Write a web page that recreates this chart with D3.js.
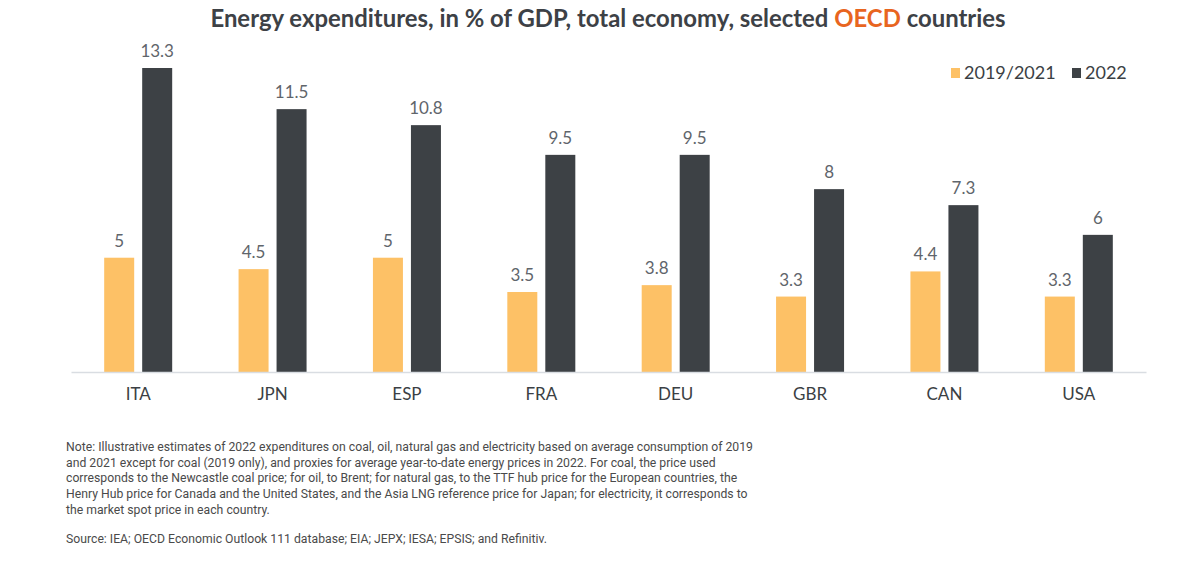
<!DOCTYPE html>
<html lang="en">
<head>
<meta charset="UTF-8">
<title>Energy expenditures</title>
<script src="https://cdn.jsdelivr.net/npm/d3@7"></script>
<style>
  body {margin: 0; background: #fff;}
  svg {display: block;}
  .title {font-family: Lato, sans-serif; font-weight: bold; font-size: 23.9px; fill: #3d4146;}
  .note {font-family: "Roboto", "Liberation Sans Narrow", sans-serif; font-size: 12.6px; fill: #4a4a4a;}
</style>
</head>
<body>
<svg id="chart"></svg>
<script>
// DATA
const countries = ["ITA", "JPN", "ESP", "FRA", "DEU", "GBR", "CAN", "USA"];
const series = ["2019/2021", "2022"];
const values2019 = [5, 4.5, 5, 3.5, 3.8, 3.3, 4.4, 3.3];
const values2022 = [13.3, 11.5, 10.8, 9.5, 9.5, 8, 7.3, 6];
const colors = ["#fdc166", "#3d4145"];
const noteLines = [
  "Note: Illustrative estimates of 2022 expenditures on coal, oil, natural gas and electricity based on average consumption of 2019",
  "and 2021 except for coal (2019 only), and proxies for average year-to-date energy prices in 2022. For coal, the price used",
  "corresponds to the Newcastle coal price; for oil, to Brent; for natural gas, to the TTF hub price for the European countries, the",
  "Henry Hub price for Canada and the United States, and the Asia LNG reference price for Japan; for electricity, it corresponds to",
  "the market spot price in each country."
];
const source = "Source: IEA; OECD Economic Outlook 111 database; EIA; JEPX; IESA; EPSIS; and Refinitiv.";

const W = 1186, H = 567;
const svg = d3.select("#chart").attr("width", W).attr("height", H);

// scales
const x = d3.scaleBand().domain(countries).range([71, 1146]);
const xs = d3.scaleBand().domain(series).range([-34, 34]).paddingInner(8 / 38);
const y = d3.scaleLinear().domain([0, 13.3]).range([372, 68]);

const table = countries.map((c, i) => ({c, vals: [values2019[i], values2022[i]]}));

// title
const title = svg.append("text").attr("class", "title").attr("x", 608).attr("y", 27).attr("text-anchor", "middle");
title.append("tspan").text("Energy expenditures, in % of GDP, total economy, selected ");
title.append("tspan").attr("fill", "#e8651f").text("OECD");
title.append("tspan").text(" countries");

// bars
const groups = svg.append("g").selectAll("g").data(table).join("g")
  .attr("transform", d => `translate(${x(d.c) + x.bandwidth() / 2},0)`);

groups.selectAll("rect").data(d => d.vals.map((v, k) => ({s: series[k], v, k}))).join("rect")
  .attr("x", d => xs(d.s))
  .attr("width", xs.bandwidth())
  .attr("y", d => y(d.v))
  .attr("height", d => y(0) - y(d.v))
  .attr("fill", d => colors[d.k]);

groups.selectAll("text.val").data(d => d.vals.map((v, k) => ({s: series[k], v}))).join("text")
  .attr("class", "val")
  .attr("x", d => xs(d.s) + xs.bandwidth() / 2)
  .attr("y", d => y(d.v) - 11)
  .attr("text-anchor", "middle")
  .attr("font-family", "Lato, sans-serif")
  .attr("font-size", 17)
  .attr("fill", "#5f656b")
  .text(d => d.v);

// x axis
const xAxis = svg.append("g").attr("transform", `translate(0,${y(0)})`)
  .call(d3.axisBottom(x).tickSize(0).tickPadding(16));
xAxis.select(".domain").attr("stroke", "#d9dde2").attr("stroke-width", 1.5);
xAxis.selectAll("text").attr("font-family", "Lato, sans-serif").attr("font-size", 17).attr("fill", "#3b3f44");

// legend
const legend = svg.append("g").attr("font-family", "Lato, sans-serif").attr("font-size", 18).attr("fill", "#3b3f44");
const legX = [951, 1072];
series.forEach((s, k) => {
  legend.append("rect").attr("x", legX[k]).attr("y", 68).attr("width", 9).attr("height", 10).attr("fill", colors[k]);
  legend.append("text").attr("x", legX[k] + 13).attr("y", 79).text(s);
});

// note (condensed look: squeeze horizontally so the first line spans like the original)
const noteG = svg.append("g");
const note = noteG.append("text").attr("class", "note");
noteLines.forEach((l, i) => {
  note.append("tspan").attr("x", 0).attr("y", 451 + i * 15.7).text(l);
});
noteG.append("text").attr("class", "note").attr("x", 0).attr("y", 543).text(source);
const firstW = note.select("tspan").node().getComputedTextLength();
const sx = 687 / firstW;
noteG.attr("transform", `translate(66,0) scale(${sx},1)`);
</script>
</body>
</html>
